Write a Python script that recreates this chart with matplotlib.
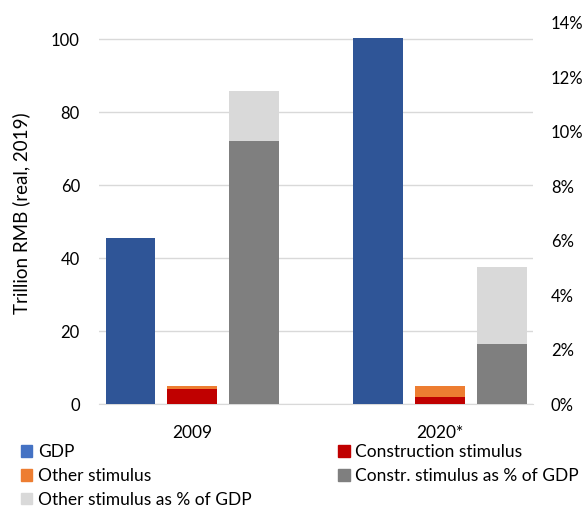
import matplotlib
matplotlib.use("Agg")
import matplotlib.pyplot as plt
from matplotlib.patches import Patch
from matplotlib.ticker import FuncFormatter

# values
years = ["2009", "2020*"]
gdp = [45.7, 100.3]
constr_stim = [4.1, 2.1]
other_stim = [0.9, 2.85]
constr_pct = [9.66, 2.21]
other_pct = [1.84, 2.82]

plt.rcParams["font.family"] = ["Lato", "DejaVu Sans"]
plt.rcParams["font.size"] = 12

fig = plt.figure(figsize=(5.87, 5.08), dpi=100)
ax = fig.add_axes([0.1692, 0.2041, 0.9075 - 0.1692, 0.9553 - 0.2041])
ax2 = ax.twinx()

x = list(range(len(years)))
w = 0.2
off = 0.25

ax.bar([i - off for i in x], gdp, w, color="#2F5597", zorder=3)
ax.bar(x, constr_stim, w, color="#C00000", zorder=3)
ax.bar(x, other_stim, w, bottom=constr_stim, color="#ED7D31", zorder=3)
ax2.bar([i + off for i in x], constr_pct, w, color="#7F7F7F", zorder=3)
ax2.bar([i + off for i in x], other_pct, w, bottom=constr_pct, color="#D9D9D9", zorder=3)

ax.set_xlim(-0.375, 1.375)
ax.set_ylim(0, 104.6)
ax.set_yticks([0, 20, 40, 60, 80, 100])
ax2.set_ylim(0, 14)
ax2.set_yticks([0, 2, 4, 6, 8, 10, 12, 14])
ax2.yaxis.set_major_formatter(FuncFormatter(lambda v, p: f"{v:.0f}%"))

ax.set_xticks(x)
ax.set_xticklabels(years)
ax.grid(axis="y", color="#D9D9D9", linewidth=1, zorder=0)
ax.set_axisbelow(True)

for a in (ax, ax2):
    for s in ("top", "left", "right"):
        a.spines[s].set_visible(False)
    a.spines["bottom"].set_color("#D9D9D9")
    a.tick_params(length=0, colors="#000000")
ax2.spines["bottom"].set_visible(False)
ax.tick_params(axis="y", pad=14)
ax.tick_params(axis="x", pad=15, labelsize=12.5)
ax2.tick_params(axis="y", pad=13)

ax.set_ylabel("Trillion RMB (real, 2019)", fontsize=13.5, labelpad=15)

handles = [
    Patch(color="#4472C4", label="GDP"),
    Patch(color="#ED7D31", label="Other stimulus"),
    Patch(color="#D9D9D9", label="Other stimulus as % of GDP"),
    Patch(color="#C00000", label="Construction stimulus"),
    Patch(color="#7F7F7F", label="Constr. stimulus as % of GDP"),
]
fig.legend(handles=handles, ncol=2, loc="upper left", fontsize=12.5,
           bbox_to_anchor=(21.0 / 587, 1 - 444.0 / 508),
           frameon=False, borderpad=0, borderaxespad=0,
           handlelength=0.65, handleheight=0.65, handletextpad=0.33,
           labelspacing=0.45, columnspacing=5.0)

fig.savefig("out.png", dpi=100)
